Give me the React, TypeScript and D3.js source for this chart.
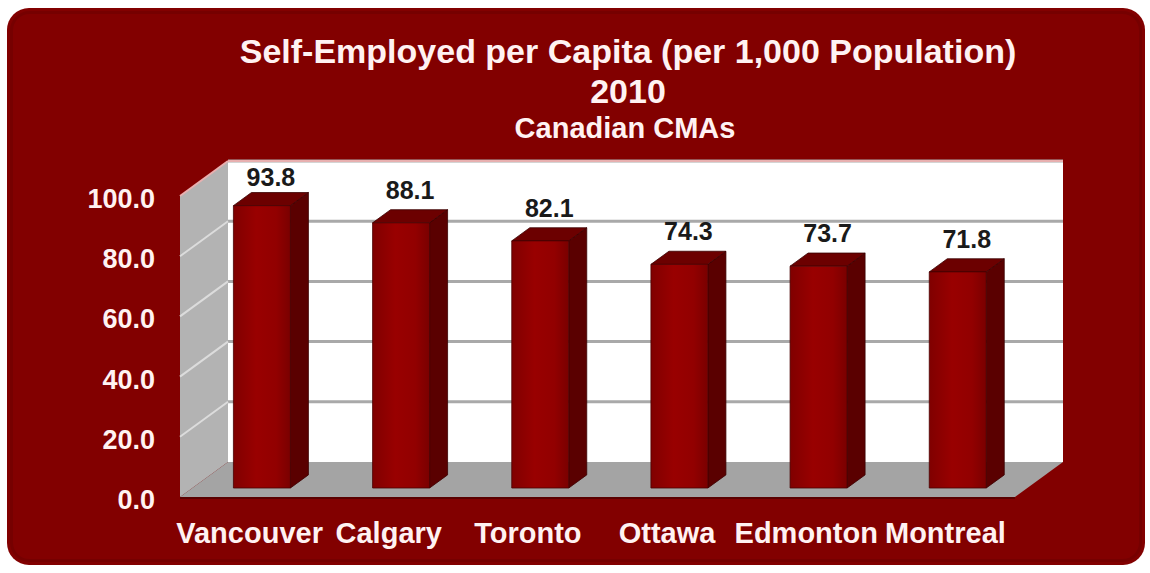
import React from "react";
import * as d3 from "d3";

const categories = ["Vancouver", "Calgary", "Toronto", "Ottawa", "Edmonton", "Montreal"];
const values = [93.8, 88.1, 82.1, 74.3, 73.7, 71.8];
const yTicks = [0, 20, 40, 60, 80, 100];
const titleLines = ["Self-Employed per Capita (per 1,000 Population)", "2010"];
const subtitle = "Canadian CMAs";

const W = 1150;
const H = 573;
const FONT = "'Liberation Sans', Arial, Helvetica, sans-serif";

// 3D projection: depth z in [0,1]
const DX = 48;
const DY = -35;
const floorY = 497;
const x = d3.scaleBand<string>().domain(categories).range([180, 1015]).paddingInner(0).paddingOuter(0);
const y = d3.scaleLinear().domain([0, 100]).range([floorY, floorY - 301]);
const z1 = 0.257;
const z2 = 0.632;
const barW = 57;

const P = (px: number, py: number, z: number) => [px + DX * z, py + DY * z];
const poly = (pts: number[][]) => pts.map((p) => p.join(",")).join(" ");

export default function App() {
  const xL = x.range()[0];
  const xR = x.range()[1];
  const wallTop = y(100) + DY;
  return (
    <svg width={W} height={H} style={{ position: "absolute", left: 0, top: 0 }} fontFamily={FONT}>
      <defs>
        <linearGradient id="barFront" x1="0" x2="1" y1="0" y2="0">
          <stop offset="0" stopColor="#800000" />
          <stop offset="0.4" stopColor="#990000" />
          <stop offset="0.75" stopColor="#920000" />
          <stop offset="1" stopColor="#7a0000" />
        </linearGradient>
      </defs>
      <rect x={7} y={8} width={1138} height={557} rx={22} fill="#820000" />
      <rect x={11.5} y={12.5} width={1129} height={548} rx={18} fill="none" stroke="#760000" strokeWidth={3} />

      {/* back wall */}
      <polygon
        points={poly([P(xL, y(100), 1), P(xR, y(100), 1), P(xR, y(0), 1), P(xL, y(0), 1)])}
        fill="#ffffff"
      />
      {yTicks.slice(1).map((t) => {
        const a = P(xL, y(t), 1);
        const b = P(xR, y(t), 1);
        return <line key={"g" + t} x1={a[0]} y1={a[1]} x2={b[0]} y2={b[1]} stroke="#a9a9a9" strokeWidth={3} />;
      })}
      <line x1={P(xL, y(100), 1)[0]} y1={wallTop} x2={P(xR, y(100), 1)[0]} y2={wallTop} stroke="#e8b0b0" strokeWidth={2} />
      {/* left wall */}
      <polygon
        points={poly([P(xL, y(100), 0), P(xL, y(100), 1), P(xL, y(0), 1), P(xL, y(0), 0)])}
        fill="#b3b3b3"
      />
      {yTicks.slice(1, -1).map((t) => {
        const a = P(xL, y(t), 0);
        const b = P(xL, y(t), 1);
        return <line key={"lg" + t} x1={a[0]} y1={a[1]} x2={b[0]} y2={b[1]} stroke="#dcdcdc" strokeWidth={2} />;
      })}
      <line
        x1={P(xL, y(100), 0)[0]}
        y1={P(xL, y(100), 0)[1]}
        x2={P(xL, y(100), 1)[0]}
        y2={P(xL, y(100), 1)[1]}
        stroke="#e8b0b0"
        strokeWidth={2}
      />
      {/* floor */}
      <polygon
        points={poly([P(xL, y(0), 0), P(xL, y(0), 1), P(xR, y(0), 1), P(xR, y(0), 0)])}
        fill="#a4a4a4"
      />
      <line x1={xL} y1={floorY + 1} x2={xR} y2={floorY + 1} stroke="#5a0000" strokeWidth={2} />

      {/* bars */}
      {categories.map((c, i) => {
        const v = values[i];
        const cx = (x(c) as number) + x.bandwidth() / 2;
        const xa = cx - barW / 2;
        const xb = cx + barW / 2;
        const ft = P(xa, y(v), z1);
        const ftR = P(xb, y(v), z1);
        const fb = P(xa, y(0), z1);
        const fbR = P(xb, y(0), z1);
        const btR = P(xb, y(v), z2);
        const bt = P(xa, y(v), z2);
        const bbR = P(xb, y(0), z2);
        const labX = cx + DX * ((z1 + z2) / 2);
        const labY = Math.max(bt[1] - 11, wallTop + 25);
        return (
          <g key={c}>
            <polygon points={poly([ftR, btR, bbR, fbR])} fill="#5a0000" stroke="#3a0000" strokeWidth={0.8} />
            <polygon points={poly([ft, ftR, btR, bt])} fill="#6c0000" stroke="#3a0000" strokeWidth={0.8} />
            <polygon points={poly([ft, ftR, fbR, fb])} fill="url(#barFront)" stroke="#4a0000" strokeWidth={0.8} />
            <text x={labX} y={labY} textAnchor="middle" fontSize={25} fontWeight="bold" fill="#1a1a1a">
              {v.toFixed(1)}
            </text>
          </g>
        );
      })}

      {/* y tick labels */}
      {yTicks.map((t) => (
        <text key={"t" + t} x={155} y={y(t) + 12} textAnchor="end" fontSize={27} fontWeight="bold" fill="#fff2f2">
          {t.toFixed(1)}
        </text>
      ))}
      {/* category labels */}
      {categories.map((c) => (
        <text
          key={"c" + c}
          x={(x(c) as number) + x.bandwidth() / 2}
          y={543}
          textAnchor="middle"
          fontSize={29}
          fontWeight="bold"
          fill="#fff2f2"
        >
          {c}
        </text>
      ))}

      {/* titles */}
      <text x={628} y={63} textAnchor="middle" fontSize={34} fontWeight="bold" fill="#fff2f2">
        {titleLines[0]}
      </text>
      <text x={628} y={103} textAnchor="middle" fontSize={34} fontWeight="bold" fill="#fff2f2">
        {titleLines[1]}
      </text>
      <text x={625} y={138} textAnchor="middle" fontSize={29} fontWeight="bold" fill="#fff2f2">
        {subtitle}
      </text>
    </svg>
  );
}
